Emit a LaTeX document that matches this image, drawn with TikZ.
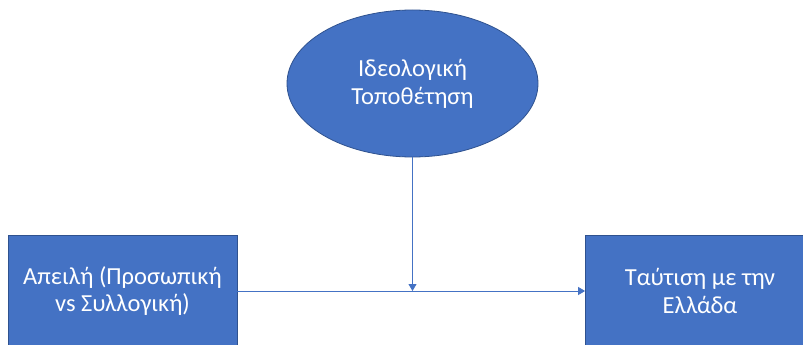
\documentclass[tikz,border=0pt]{standalone}
\usepackage{fontspec}
\setmainfont{Carlito}
\usetikzlibrary{shapes.geometric,arrows.meta}
\definecolor{obluefill}{HTML}{4472C4}
\definecolor{oblueline}{HTML}{2F528F}
\definecolor{conn}{HTML}{4472C4}
\tikzset{
  x=1pt,y=-1pt,
  box/.style={draw=oblueline,line width=0.8pt,fill=obluefill,text=white,font=\fontsize{24.5}{27.5}\selectfont,align=center,inner sep=0pt,minimum width=229pt,minimum height=112pt},
  oval/.style={ellipse,draw=oblueline,line width=0.8pt,fill=obluefill,text=white,font=\fontsize{24.5}{28}\selectfont,align=center,inner sep=0pt,minimum width=251pt,minimum height=147pt},
  conn/.style={draw=conn,line width=0.8pt,-{Triangle[length=7pt,width=8pt]}}
}
\begin{document}
\begin{tikzpicture}
\useasboundingbox (0,0) rectangle (803,345);
\clip (0,0) rectangle (803,345);
\fill[white] (0,0) rectangle (803,345);
\node[oval] (ideo) at (412.5,83.5) {Ιδεολογική\\Τοποθέτηση};
\node[box] (threat) at (122.5,291) {Απειλή (Προσωπική\\vs Συλλογική)};
\node[box] (ident) at (700,291) {Ταύτιση με την\\Ελλάδα};
\coordinate (mid) at (412.5,291);
\draw[conn] (threat.east) -- (ident.west);
\draw[conn] (ideo.south) -- (mid);
\end{tikzpicture}
\end{document}
